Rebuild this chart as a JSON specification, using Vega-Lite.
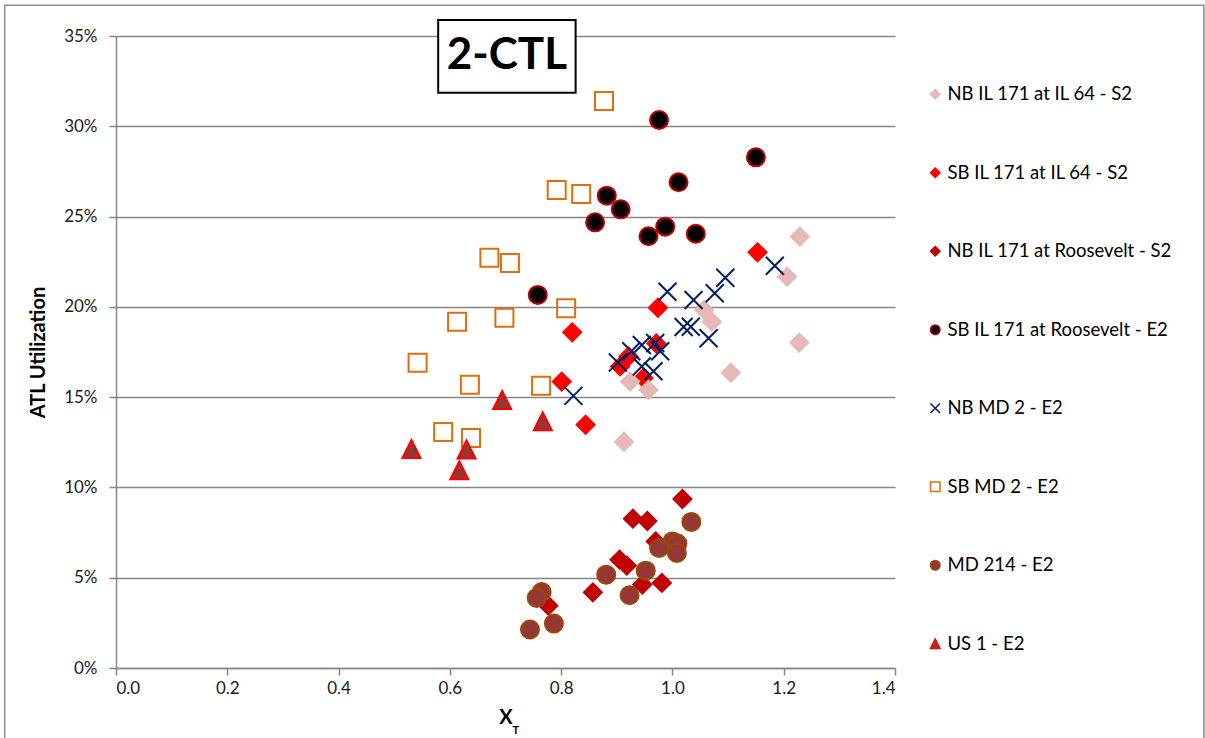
{
  "$schema": "https://vega.github.io/schema/vega-lite/v6.json",
  "width": 779,
  "height": 632,
  "autosize": "none",
  "padding": {"left": 116, "top": 36, "right": 310, "bottom": 70},
  "background": "white",
  "config": {
    "font": "Lato",
    "view": {"stroke": null},
    "axis": {
      "labelFont": "Lato",
      "labelFontSize": 17,
      "labelColor": "#1a1a1a",
      "titleFont": "Lato",
      "titleFontSize": 20,
      "titleFontWeight": "bold",
      "titleColor": "#000000",
      "domainColor": "#868686",
      "domainWidth": 1.5,
      "tickColor": "#868686",
      "tickWidth": 1.5,
      "tickSize": 7,
      "gridColor": "#868686",
      "gridWidth": 1.5
    },
    "legend": {
      "orient": "none",
      "legendX": 810,
      "legendY": 49,
      "labelFont": "Lato",
      "labelFontSize": 18.5,
      "labelColor": "#000000",
      "labelOffset": 3,
      "labelLimit": 300,
      "rowPadding": 59.5,
      "symbolSize": 90,
      "symbolStrokeWidth": 1.5,
      "padding": 0
    }
  },
  "datasets": {
    "points": [
      {"series": "SB IL 171 at IL 64 - S2", "xt": 1.153, "atl": 0.2302},
      {"series": "SB IL 171 at IL 64 - S2", "xt": 0.974, "atl": 0.1995},
      {"series": "SB IL 171 at IL 64 - S2", "xt": 0.820, "atl": 0.1859},
      {"series": "SB IL 171 at IL 64 - S2", "xt": 0.971, "atl": 0.1797},
      {"series": "SB IL 171 at IL 64 - S2", "xt": 0.921, "atl": 0.1725},
      {"series": "SB IL 171 at IL 64 - S2", "xt": 0.906, "atl": 0.1670},
      {"series": "SB IL 171 at IL 64 - S2", "xt": 0.948, "atl": 0.1606},
      {"series": "SB IL 171 at IL 64 - S2", "xt": 0.801, "atl": 0.1586},
      {"series": "SB IL 171 at IL 64 - S2", "xt": 0.844, "atl": 0.1347},
      {"series": "NB IL 171 at IL 64 - S2", "xt": 1.229, "atl": 0.2389},
      {"series": "NB IL 171 at IL 64 - S2", "xt": 1.206, "atl": 0.2167},
      {"series": "NB IL 171 at IL 64 - S2", "xt": 1.057, "atl": 0.1983},
      {"series": "NB IL 171 at IL 64 - S2", "xt": 1.071, "atl": 0.1918},
      {"series": "NB IL 171 at IL 64 - S2", "xt": 1.228, "atl": 0.1802},
      {"series": "NB IL 171 at IL 64 - S2", "xt": 1.105, "atl": 0.1635},
      {"series": "NB IL 171 at IL 64 - S2", "xt": 0.924, "atl": 0.1586},
      {"series": "NB IL 171 at IL 64 - S2", "xt": 0.957, "atl": 0.1540},
      {"series": "NB IL 171 at IL 64 - S2", "xt": 0.913, "atl": 0.1253},
      {"series": "NB IL 171 at Roosevelt - S2", "xt": 1.018, "atl": 0.0936},
      {"series": "NB IL 171 at Roosevelt - S2", "xt": 0.929, "atl": 0.0827},
      {"series": "NB IL 171 at Roosevelt - S2", "xt": 0.955, "atl": 0.0814},
      {"series": "NB IL 171 at Roosevelt - S2", "xt": 0.970, "atl": 0.0701},
      {"series": "NB IL 171 at Roosevelt - S2", "xt": 0.905, "atl": 0.0600},
      {"series": "NB IL 171 at Roosevelt - S2", "xt": 0.918, "atl": 0.0567},
      {"series": "NB IL 171 at Roosevelt - S2", "xt": 0.946, "atl": 0.0462},
      {"series": "NB IL 171 at Roosevelt - S2", "xt": 0.981, "atl": 0.0471},
      {"series": "NB IL 171 at Roosevelt - S2", "xt": 0.857, "atl": 0.0419},
      {"series": "NB IL 171 at Roosevelt - S2", "xt": 0.777, "atl": 0.0345},
      {"series": "SB IL 171 at Roosevelt - E2", "xt": 0.976, "atl": 0.3035},
      {"series": "SB IL 171 at Roosevelt - E2", "xt": 1.150, "atl": 0.2828},
      {"series": "SB IL 171 at Roosevelt - E2", "xt": 1.011, "atl": 0.2690},
      {"series": "SB IL 171 at Roosevelt - E2", "xt": 0.882, "atl": 0.2616},
      {"series": "SB IL 171 at Roosevelt - E2", "xt": 0.907, "atl": 0.2540},
      {"series": "SB IL 171 at Roosevelt - E2", "xt": 0.861, "atl": 0.2468},
      {"series": "SB IL 171 at Roosevelt - E2", "xt": 0.987, "atl": 0.2444},
      {"series": "SB IL 171 at Roosevelt - E2", "xt": 0.957, "atl": 0.2391},
      {"series": "SB IL 171 at Roosevelt - E2", "xt": 1.042, "atl": 0.2405},
      {"series": "SB IL 171 at Roosevelt - E2", "xt": 0.758, "atl": 0.2066},
      {"series": "NB MD 2 - E2", "xt": 1.184, "atl": 0.2228},
      {"series": "NB MD 2 - E2", "xt": 1.095, "atl": 0.2161},
      {"series": "NB MD 2 - E2", "xt": 0.991, "atl": 0.2084},
      {"series": "NB MD 2 - E2", "xt": 1.076, "atl": 0.2075},
      {"series": "NB MD 2 - E2", "xt": 1.038, "atl": 0.2038},
      {"series": "NB MD 2 - E2", "xt": 1.020, "atl": 0.1888},
      {"series": "NB MD 2 - E2", "xt": 1.033, "atl": 0.1890},
      {"series": "NB MD 2 - E2", "xt": 1.065, "atl": 0.1826},
      {"series": "NB MD 2 - E2", "xt": 0.969, "atl": 0.1800},
      {"series": "NB MD 2 - E2", "xt": 0.945, "atl": 0.1789},
      {"series": "NB MD 2 - E2", "xt": 0.978, "atl": 0.1754},
      {"series": "NB MD 2 - E2", "xt": 0.926, "atl": 0.1754},
      {"series": "NB MD 2 - E2", "xt": 0.902, "atl": 0.1692},
      {"series": "NB MD 2 - E2", "xt": 0.945, "atl": 0.1670},
      {"series": "NB MD 2 - E2", "xt": 0.966, "atl": 0.1643},
      {"series": "NB MD 2 - E2", "xt": 0.822, "atl": 0.1507},
      {"series": "SB MD 2 - E2", "xt": 0.877, "atl": 0.3140},
      {"series": "SB MD 2 - E2", "xt": 0.792, "atl": 0.2647},
      {"series": "SB MD 2 - E2", "xt": 0.836, "atl": 0.2625},
      {"series": "SB MD 2 - E2", "xt": 0.671, "atl": 0.2272},
      {"series": "SB MD 2 - E2", "xt": 0.708, "atl": 0.2243},
      {"series": "SB MD 2 - E2", "xt": 0.809, "atl": 0.1992},
      {"series": "SB MD 2 - E2", "xt": 0.698, "atl": 0.1940},
      {"series": "SB MD 2 - E2", "xt": 0.613, "atl": 0.1918},
      {"series": "SB MD 2 - E2", "xt": 0.542, "atl": 0.1690},
      {"series": "SB MD 2 - E2", "xt": 0.636, "atl": 0.1568},
      {"series": "SB MD 2 - E2", "xt": 0.764, "atl": 0.1563},
      {"series": "SB MD 2 - E2", "xt": 0.588, "atl": 0.1307},
      {"series": "SB MD 2 - E2", "xt": 0.638, "atl": 0.1274},
      {"series": "MD 214 - E2", "xt": 1.034, "atl": 0.0809},
      {"series": "MD 214 - E2", "xt": 1.000, "atl": 0.0701},
      {"series": "MD 214 - E2", "xt": 1.009, "atl": 0.0689},
      {"series": "MD 214 - E2", "xt": 0.976, "atl": 0.0665},
      {"series": "MD 214 - E2", "xt": 1.008, "atl": 0.0637},
      {"series": "MD 214 - E2", "xt": 0.952, "atl": 0.0539},
      {"series": "MD 214 - E2", "xt": 0.881, "atl": 0.0517},
      {"series": "MD 214 - E2", "xt": 0.923, "atl": 0.0403},
      {"series": "MD 214 - E2", "xt": 0.765, "atl": 0.0421},
      {"series": "MD 214 - E2", "xt": 0.756, "atl": 0.0388},
      {"series": "MD 214 - E2", "xt": 0.787, "atl": 0.0246},
      {"series": "MD 214 - E2", "xt": 0.744, "atl": 0.0213},
      {"series": "US 1 - E2", "xt": 0.694, "atl": 0.1484},
      {"series": "US 1 - E2", "xt": 0.767, "atl": 0.1366},
      {"series": "US 1 - E2", "xt": 0.531, "atl": 0.1213},
      {"series": "US 1 - E2", "xt": 0.630, "atl": 0.1210},
      {"series": "US 1 - E2", "xt": 0.617, "atl": 0.1095}
    ]
  },
  "layer": [
    {
      "description": "chart frame",
      "data": {"values": [{}]},
      "mark": {"type": "rect", "fill": null, "stroke": "#8c8c8c", "strokeWidth": 1.5, "clip": false},
      "encoding": {
        "x": {"datum": -0.2, "type": "quantitative"},
        "x2": {"datum": 1.955},
        "y": {"datum": 0.367, "type": "quantitative"},
        "y2": {"datum": -0.2}
      }
    },
    {
      "data": {"name": "points"},
      "mark": {"type": "point", "filled": true, "strokeWidth": 2, "opacity": 1, "size": 324},
      "encoding": {
        "x": {
          "field": "xt",
          "type": "quantitative",
          "scale": {"domain": [0, 1.4], "nice": false, "zero": false},
          "axis": {"values": [0, 0.2, 0.4, 0.6, 0.8, 1.0, 1.2, 1.4], "format": ".1f", "grid": false, "title": "X", "labelPadding": 5, "titlePadding": 11}
        },
        "y": {
          "field": "atl",
          "type": "quantitative",
          "scale": {"domain": [0, 0.35], "nice": false, "zero": false},
          "axis": {"values": [0, 0.05, 0.1, 0.15, 0.2, 0.25, 0.3, 0.35], "format": ".0%", "grid": true, "title": "ATL Utilization", "labelPadding": 12, "titlePadding": 15}
        },
        "shape": {
          "field": "series",
          "type": "nominal",
          "title": null,
          "scale": {
            "domain": ["NB IL 171 at IL 64 - S2", "SB IL 171 at IL 64 - S2", "NB IL 171 at Roosevelt - S2", "SB IL 171 at Roosevelt - E2", "NB MD 2 - E2", "SB MD 2 - E2", "MD 214 - E2", "US 1 - E2"],
            "range": ["diamond", "diamond", "diamond", "circle", "M-1,-1L1,1M1,-1L-1,1", "square", "circle", "M0,-1L1,1L-1,1Z"]
          }
        },
        "fill": {
          "field": "series",
          "type": "nominal",
          "title": null,
          "scale": {
            "domain": ["NB IL 171 at IL 64 - S2", "SB IL 171 at IL 64 - S2", "NB IL 171 at Roosevelt - S2", "SB IL 171 at Roosevelt - E2", "NB MD 2 - E2", "SB MD 2 - E2", "MD 214 - E2", "US 1 - E2"],
            "range": ["#E6B9B8", "#FF0000", "#C00000", "#000000", "transparent", "transparent", "#953735", "#953735"]
          }
        },
        "stroke": {
          "field": "series",
          "type": "nominal",
          "title": null,
          "scale": {
            "domain": ["NB IL 171 at IL 64 - S2", "SB IL 171 at IL 64 - S2", "NB IL 171 at Roosevelt - S2", "SB IL 171 at Roosevelt - E2", "NB MD 2 - E2", "SB MD 2 - E2", "MD 214 - E2", "US 1 - E2"],
            "range": ["#E6B9B8", "#FF0000", "#C00000", "#C00000", "#002060", "#E46C0A", "#984807", "#FF0000"]
          }
        }
      }
    },
    {
      "description": "boxed chart label",
      "data": {"values": [{}]},
      "mark": {"type": "rect", "fill": "white", "stroke": "black", "strokeWidth": 2, "clip": false},
      "encoding": {
        "x": {"datum": 0.579, "type": "quantitative"},
        "x2": {"datum": 0.826},
        "y": {"datum": 0.3589, "type": "quantitative"},
        "y2": {"datum": 0.3186}
      }
    },
    {
      "data": {"values": [{}]},
      "mark": {"type": "text", "text": "2-CTL", "font": "Lato", "fontSize": 44, "fontWeight": "bold", "color": "black", "align": "center", "baseline": "middle", "clip": false},
      "encoding": {
        "x": {"datum": 0.7025, "type": "quantitative"},
        "y": {"datum": 0.3388, "type": "quantitative"}
      }
    },
    {
      "description": "subscript T of the x-axis title",
      "data": {"values": [{}]},
      "mark": {"type": "text", "text": "T", "font": "Lato", "fontSize": 11, "fontWeight": "bold", "color": "black", "align": "left", "baseline": "alphabetic", "dx": 7, "dy": 66, "clip": false},
      "encoding": {
        "x": {"datum": 0.7, "type": "quantitative"},
        "y": {"datum": 0, "type": "quantitative"}
      }
    }
  ]
}
